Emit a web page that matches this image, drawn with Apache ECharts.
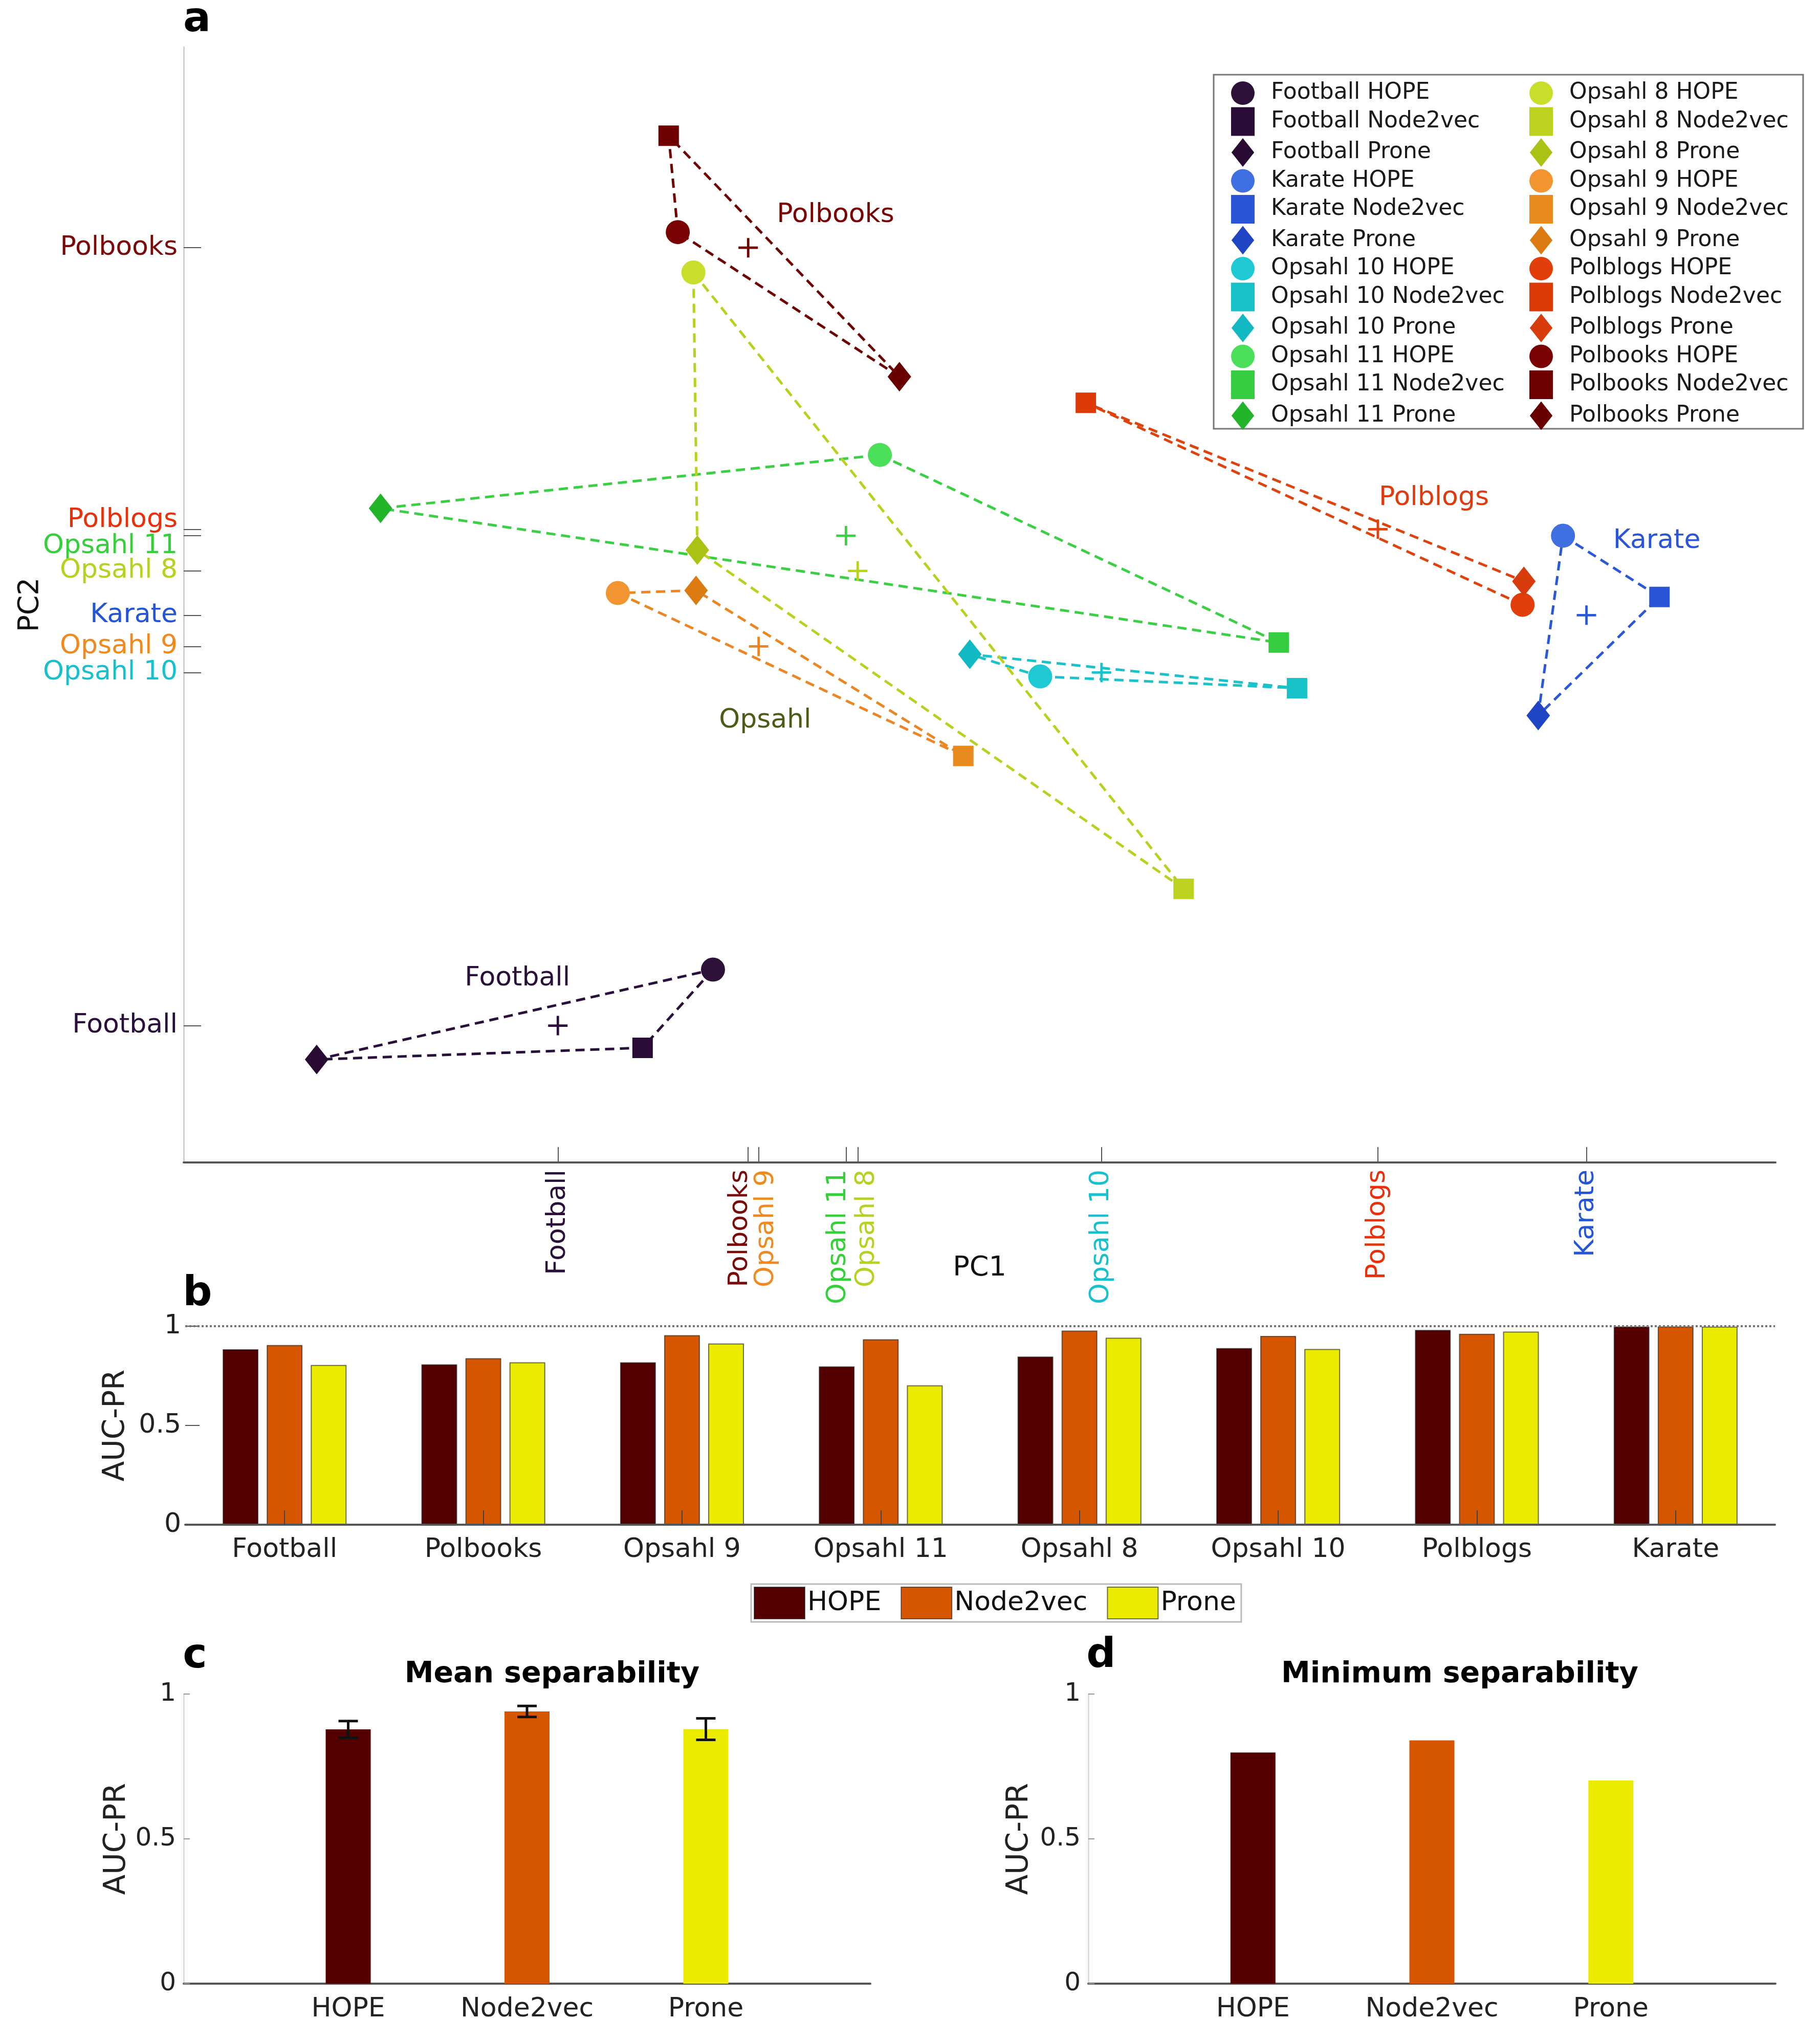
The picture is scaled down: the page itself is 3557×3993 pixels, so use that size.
<!DOCTYPE html>
<html><head><meta charset="utf-8">
<script src="https://cdn.jsdelivr.net/npm/echarts@6/dist/echarts.min.js"></script>
<style>html,body{margin:0;padding:0;background:#fff}#c{width:3557px;height:3993px}</style>
</head><body><div id="c"></div>
<script>
// ---------------- DATA ----------------
const networks = ['Football','Karate','Opsahl 10','Opsahl 11','Opsahl 8','Opsahl 9','Polblogs','Polbooks'];
const methods = ['HOPE','Node2vec','Prone'];
const hopePC1 = [4.06,10.58,6.57,5.34,3.91,3.33,10.27,3.79];
const hopePC2 = [1.48,4.81,3.73,5.43,6.83,4.37,4.28,7.14];
const node2vecPC1 = [3.52,11.32,8.54,8.40,7.67,5.98,6.92,3.72];
const node2vecPC2 = [0.88,4.34,3.64,3.99,2.10,3.12,5.83,7.88];
const pronePC1 = [1.02,10.39,6.03,1.51,3.94,3.93,10.28,5.49];
const pronePC2 = [0.79,3.43,3.90,5.02,4.70,4.39,4.46,6.03];
const centroidPC1 = [2.87,10.76,7.04,5.08,5.17,4.41,9.16,4.33];
const centroidPC2 = [1.05,4.20,3.76,4.81,4.54,3.96,4.86,7.02];
// tick-label anchor values (labels nudged apart where ticks are close)
const xTickLabelPC1 = [2.87,10.76,7.04,5.02,5.24,4.47,9.16,4.27];
const yTickLabelPC2 = [1.05,4.20,3.76,4.73,4.54,3.96,4.93,7.02];
const clusterNames = ['Football','Polbooks','Polblogs','Karate','Opsahl'];
const clusterPC1 = [2.56,5.00,9.59,11.30,4.46];
const clusterPC2 = [1.41,7.27,5.10,4.77,3.39];

const barCategories = ['Football','Polbooks','Opsahl 9','Opsahl 11','Opsahl 8','Opsahl 10','Polblogs','Karate'];
const hopeAUC = [0.884,0.808,0.818,0.798,0.847,0.890,0.981,0.999];
const node2vecAUC = [0.905,0.839,0.955,0.934,0.978,0.951,0.962,0.999];
const proneAUC = [0.805,0.818,0.913,0.702,0.942,0.885,0.973,0.998];
const meanAUC = [0.878,0.940,0.879];
const meanErr = [0.029,0.019,0.037];
const minAUC = [0.798,0.840,0.702];

// ---------------- STYLES ----------------
const FF = 'DejaVu Sans';
const markerColors = [
  ['#2e1139','#2a0d36','#280a33'],
  ['#3f6fe0','#2a55d6','#1f45c4'],
  ['#1ec9d4','#17c2c9','#12b9c2'],
  ['#4ce05a','#36cd40','#22b52b'],
  ['#c9de2a','#bcd21f','#abc215'],
  ['#f29531','#e98a1f','#dc7b12'],
  ['#e13e0c','#dd3a08','#d93c0c'],
  ['#7a0303','#700000','#680000']
];
const lineColors = ['#2a0f3a','#2a58d6','#1ac2ca','#3ad044','#b9d11e','#ec8622','#e0420e','#6e0000'];
const axisLabelColors = ['#2b0f3b','#2454d8','#17c0cc','#33d03a','#b8d020','#f08a1e','#e8300a','#7a0a0a'];
const clusterColors = ['#2a0f3a','#7a0000','#e03a10','#2b55d6','#4b5c16'];
const barColors = ['#550000','#d65600','#ebeb00'];
const diamondPath = 'path://M0,-29L23,0L0,29L-23,0Z';
const plusPath = 'path://M-2.5,-20L2.5,-20L2.5,-2.5L20,-2.5L20,2.5L2.5,2.5L2.5,20L-2.5,20L-2.5,2.5L-20,2.5L-20,-2.5L-2.5,-2.5Z';
const symbols = ['circle','rect',diamondPath];
const symbolSizes = [47,40,[46,58]];

function nearest(arr, v){let b=0,d=1e9;arr.forEach((a,i)=>{if(Math.abs(a-v)<d){d=Math.abs(a-v);b=i;}});return b;}
const rich = {};
networks.forEach((n,i)=>{ rich['n'+i] = {color:axisLabelColors[i], fontSize:52, fontFamily:FF}; });

const pc1s=[hopePC1,node2vecPC1,pronePC1], pc2s=[hopePC2,node2vecPC2,pronePC2];
const series = [];
networks.forEach((n,i)=>{
  series.push({type:'line', name:n+' link', xAxisIndex:0, yAxisIndex:0, silent:true, symbol:'none', z:2,
    lineStyle:{color:lineColors[i], width:5, type:[18,11], opacity:1},
    data:[[hopePC1[i],hopePC2[i]],[node2vecPC1[i],node2vecPC2[i]],[pronePC1[i],pronePC2[i]],[hopePC1[i],hopePC2[i]]]});
});
networks.forEach((n,i)=>{
  methods.forEach((m,j)=>{
    series.push({type:'scatter', name:n+' '+m, xAxisIndex:0, yAxisIndex:0, symbol:symbols[j], symbolSize:symbolSizes[j],
      itemStyle:{color:markerColors[i][j], opacity:1}, z:5, silent:true, data:[[pc1s[j][i], pc2s[j][i]]]});
  });
});
series.push({type:'scatter', name:'centroids', xAxisIndex:0, yAxisIndex:0, symbol:plusPath, symbolSize:38, z:4, silent:true,
  itemStyle:{opacity:1},
  data: networks.map((n,i)=>({value:[centroidPC1[i],centroidPC2[i]], itemStyle:{color:lineColors[i], opacity:1}}))});
series.push({type:'scatter', name:'cluster labels', xAxisIndex:0, yAxisIndex:0, symbolSize:1, z:6, silent:true,
  itemStyle:{color:'rgba(0,0,0,0)', opacity:1},
  label:{show:true, position:'inside', formatter:p=>p.name, fontSize:52, fontFamily:FF, textBorderWidth:0, opacity:1},
  data: clusterNames.map((n,i)=>({name:n, value:[clusterPC1[i],clusterPC2[i]], label:{color:clusterColors[i]}}))});

const aucs=[hopeAUC,node2vecAUC,proneAUC];
methods.forEach((m,j)=>{
  const s = {type:'bar', name:m, xAxisIndex:1, yAxisIndex:1, data:aucs[j], barWidth:70, barGap:'23%', silent:true,
    itemStyle:{color:barColors[j], borderColor:'rgba(20,20,20,0.6)', borderWidth:2}};
  if(j===0){ s.markLine = {silent:true, symbol:'none', label:{show:false}, lineStyle:{type:[4,4], color:'#777', width:4}, data:[{yAxis:1}]}; }
  series.push(s);
});
series.push({type:'bar', name:'Mean separability', xAxisIndex:2, yAxisIndex:2, barWidth:88, silent:true,
  data: meanAUC.map((v,i)=>({value:[i+1,v], itemStyle:{color:barColors[i]}}))});
series.push({type:'custom', name:'Mean error', xAxisIndex:2, yAxisIndex:2, z:10, silent:true, encode:{x:0,y:1},
  data: meanAUC.map((v,i)=>[i+1, v, meanErr[i]]),
  renderItem:(params, api)=>{
    const x=api.value(0), m=api.value(1), e=api.value(2);
    const t=api.coord([x,m+e]), b=api.coord([x,m-e]); const hw=19;
    const st={stroke:'#111', lineWidth:5};
    return {type:'group', children:[
      {type:'line', shape:{x1:t[0],y1:t[1],x2:b[0],y2:b[1]}, style:st},
      {type:'line', shape:{x1:t[0]-hw,y1:t[1],x2:t[0]+hw,y2:t[1]}, style:st},
      {type:'line', shape:{x1:b[0]-hw,y1:b[1],x2:b[0]+hw,y2:b[1]}, style:st}]};
  }});
series.push({type:'bar', name:'Minimum separability', xAxisIndex:3, yAxisIndex:3, barWidth:88, silent:true,
  data: minAUC.map((v,i)=>({value:[i+1,v], itemStyle:{color:barColors[i]}}))});

const methodAxis = (gi)=>({gridIndex:gi, type:'value', min:0.08, max:3.92,
  axisLine:{show:true, onZero:false, lineStyle:{color:'#555', width:4}}, axisTick:{show:false}, splitLine:{show:false},
  axisLabel:{customValues:[1,2,3], formatter:v=>methods[Math.round(v)-1], fontSize:52, fontFamily:FF, color:'#222', margin:24}});
const aucAxis = (gi, gap)=>({gridIndex:gi, type:'value', min:0, max:1, interval:0.5,
  axisLine:{show:true, lineStyle:{color:'#ddd', width:3}}, axisTick:{show:true, inside:true, length:12, lineStyle:{color:'#999', width:2}},
  splitLine:{show:false}, axisLabel:{fontSize:50, fontFamily:FF, color:'#222', margin:15},
  name:'AUC-PR', nameLocation:'middle', nameRotate:90, nameGap:gap, nameMoveOverlap:false, nameTextStyle:{fontSize:58, fontFamily:FF, color:'#222'}});

const legendNames = networks.flatMap(n=>methods.map(m=>n+' '+m));
const legendCommon = {orient:'vertical', top:146, height:740, itemWidth:46, itemHeight:56, itemGap:4.5, selectedMode:false,
  textStyle:{fontSize:44, fontFamily:FF, color:'#1a1a1a', padding:[0,0,0,27]}};
const option = {
  animation:false,
  textStyle:{fontFamily:FF},
  grid:[
    {left:359, top:92, width:3111, height:2180, outerBoundsMode:'none'},
    {left:362, top:2592, width:3107, height:388, outerBoundsMode:'none'},
    {left:359, top:3311, width:1342, height:566, outerBoundsMode:'none'},
    {left:2127, top:3311, width:1343, height:566, outerBoundsMode:'none'}
  ],
  xAxis:[
    {gridIndex:0, type:'value', min:0, max:12.21,
      axisLine:{show:true, onZero:false, lineStyle:{color:'#555', width:4}},
      axisTick:{show:true, inside:true, length:30, customValues:centroidPC1, lineStyle:{color:'#555', width:2}},
      axisLabel:{customValues:xTickLabelPC1, rotate:90, margin:14, rich:rich,
        formatter:v=>{const i=nearest(xTickLabelPC1,v);return '{n'+i+'|'+networks[i]+'}';}},
      splitLine:{show:false},
      name:'PC1', nameLocation:'middle', nameGap:180, nameMoveOverlap:false, nameTextStyle:{fontSize:54, fontFamily:FF, color:'#111'}},
    {gridIndex:1, type:'category', data:barCategories, z:5,
      axisLine:{show:true, lineStyle:{color:'#555', width:4}},
      axisTick:{show:true, inside:true, alignWithLabel:true, length:28, lineStyle:{color:'#444', width:2}},
      axisLabel:{fontSize:52, fontFamily:FF, color:'#222', margin:23}},
    methodAxis(2), methodAxis(3)
  ],
  yAxis:[
    {gridIndex:0, type:'value', min:0, max:8.56,
      axisLine:{show:true, onZero:false, lineStyle:{color:'#d0d0d0', width:3}},
      axisTick:{show:true, inside:true, length:34, customValues:centroidPC2, lineStyle:{color:'#555', width:2}},
      axisLabel:{customValues:yTickLabelPC2, margin:12, rich:rich,
        formatter:v=>{const i=nearest(yTickLabelPC2,v);return '{n'+i+'|'+networks[i]+'}';}},
      splitLine:{show:false},
      name:'PC2', nameLocation:'middle', nameRotate:90, nameGap:272, nameMoveOverlap:false, nameTextStyle:{fontSize:55, fontFamily:FF, color:'#111'}},
    {gridIndex:1, type:'value', min:0, max:1, interval:0.5,
      axisLine:{show:false}, axisTick:{show:true, inside:true, length:28, lineStyle:{color:'#555', width:2}},
      splitLine:{show:false}, axisLabel:{fontSize:52, fontFamily:FF, color:'#222', margin:8},
      name:'AUC-PR', nameLocation:'middle', nameRotate:90, nameGap:106, nameMoveOverlap:false, nameTextStyle:{fontSize:58, fontFamily:FF, color:'#222'}},
    aucAxis(2,101), aucAxis(3,105)
  ],
  legend:[
    Object.assign({}, legendCommon, {data: legendNames.slice(0,12), left:2372, padding:[13,0,2,34]}),
    Object.assign({}, legendCommon, {data: legendNames.slice(12), left:2989, padding:[13,0,2,0]}),
    {data:methods, orient:'horizontal', left:1468, top:3096, icon:'rect', itemWidth:99, itemHeight:62, itemGap:38, selectedMode:false,
      textStyle:{fontSize:52, fontFamily:FF, color:'#111'}, borderColor:'#bbb', borderWidth:3, padding:[5,10,5,5]}
  ],
  graphic:[
    {type:'rect', z:-1, shape:{x:2372, y:146, width:1152, height:692}, style:{fill:'#fff', stroke:'#777', lineWidth:3}},
    {type:'text', x:385, y:40, style:{text:'a', fontSize:80, fontWeight:'bold', fontFamily:FF, fill:'#000', align:'center', verticalAlign:'middle'}},
    {type:'text', x:386, y:2530, style:{text:'b', fontSize:80, fontWeight:'bold', fontFamily:FF, fill:'#000', align:'center', verticalAlign:'middle'}},
    {type:'text', x:381, y:3238, style:{text:'c', fontSize:80, fontWeight:'bold', fontFamily:FF, fill:'#000', align:'center', verticalAlign:'middle'}},
    {type:'text', x:2152, y:3237, style:{text:'d', fontSize:80, fontWeight:'bold', fontFamily:FF, fill:'#000', align:'center', verticalAlign:'middle'}},
    {type:'text', x:1079, y:3273, style:{text:'Mean separability', fontSize:57, fontWeight:'bold', fontFamily:FF, fill:'#000', align:'center', verticalAlign:'middle'}},
    {type:'text', x:2853, y:3273, style:{text:'Minimum separability', fontSize:57, fontWeight:'bold', fontFamily:FF, fill:'#000', align:'center', verticalAlign:'middle'}}
  ],
  series: series
};
const chart = echarts.init(document.getElementById('c'));
chart.setOption(option);
</script></body></html>
